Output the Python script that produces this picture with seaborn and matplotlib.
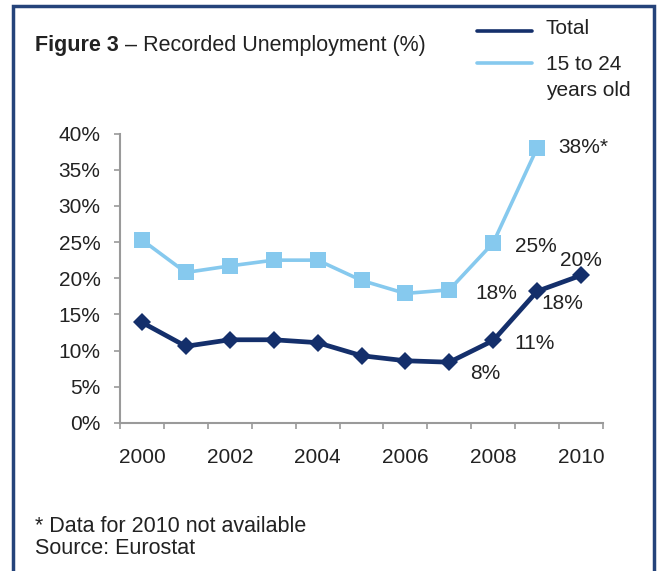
import matplotlib
matplotlib.use("Agg")
import matplotlib.pyplot as plt
from matplotlib.lines import Line2D
from matplotlib.patches import Rectangle
from matplotlib.ticker import FixedLocator, FuncFormatter
import seaborn as sns
import pandas as pd
import numpy as np

# Recorded unemployment (%), by year
years = [2000, 2001, 2002, 2003, 2004, 2005, 2006, 2007, 2008, 2009, 2010]
total = [13.9, 10.6, 11.5, 11.5, 11.1, 9.3, 8.6, 8.4, 11.4, 18.2, 20.4]
youth = [25.3, 20.8, 21.7, 22.5, 22.5, 19.7, 17.9, 18.4, 24.9, 38.0, np.nan]

# labelled points: (year, x offset px, y offset px, suffix)
total_labels = [(2007, 36, -11, ""), (2008, 41, -3, ""), (2009, 25, -12, ""), (2010, 0, 15, "")]
youth_labels = [(2007, 47, -4, ""), (2008, 43, -4, ""), (2009, 46, 0, "*")]

y_ticks = [0, 5, 10, 15, 20, 25, 30, 35, 40]
x_ticklabels = [2000, 2002, 2004, 2006, 2008, 2010]

NAVY = "#142f6b"
LIGHT = "#86c9ee"
FRAME = "#25437a"
AXIS = "#9a9a9a"
TEXT = "#222222"
FS = 15

df = pd.DataFrame({"year": years, "Total": total, "15 to 24 years old": youth})

sns.set_theme(style="white")
plt.rcParams["font.family"] = ["Liberation Sans", "DejaVu Sans"]

W, H = 659, 571
fig = plt.figure(figsize=(W / 100, H / 100), dpi=100)


def fx(px):
    return px / W


def fy(py):
    return 1 - py / H


ax = fig.add_axes([fx(120), fy(423), fx(603) - fx(120), fy(133.5) - fy(423)])

sns.lineplot(data=df, x="year", y="15 to 24 years old", ax=ax, color=LIGHT,
             linewidth=2.6, marker="s", markersize=11, markeredgewidth=0,
             zorder=3)
sns.lineplot(data=df, x="year", y="Total", ax=ax, color=NAVY,
             linewidth=3.4, marker="D", markersize=9, markeredgewidth=0,
             zorder=4)

ax.set_xlim(1999.5, 2010.5)
ax.set_ylim(0, 40)
ax.set_xlabel("")
ax.set_ylabel("")

ax.yaxis.set_major_locator(FixedLocator(y_ticks))
ax.yaxis.set_major_formatter(FuncFormatter(lambda v, p: f"{v:.0f}%"))
ax.xaxis.set_major_locator(FixedLocator(x_ticklabels))
ax.xaxis.set_major_formatter(FuncFormatter(lambda v, p: f"{v:.0f}"))
ax.xaxis.set_minor_locator(FixedLocator(np.arange(1999.5, 2011, 1.0)))

ax.tick_params(axis="y", which="major", length=4, width=1.2, color=AXIS,
               labelsize=FS, labelcolor=TEXT, pad=10, left=True)
ax.tick_params(axis="x", which="major", length=0, labelsize=FS,
               labelcolor=TEXT, pad=18)
ax.tick_params(axis="x", which="minor", length=4, width=1.2, color=AXIS,
               bottom=True, direction="out")

for side in ["top", "right"]:
    ax.spines[side].set_visible(False)
for side in ["left", "bottom"]:
    ax.spines[side].set_color(AXIS)
    ax.spines[side].set_linewidth(1.5)

for yr, dx, dy, suf in total_labels:
    v = total[years.index(yr)]
    ax.annotate(f"{v:.0f}%{suf}", (yr, v), xytext=(dx, dy),
                textcoords="offset pixels", ha="center", va="center",
                fontsize=FS, color=TEXT, zorder=6)
for yr, dx, dy, suf in youth_labels:
    v = youth[years.index(yr)]
    ax.annotate(f"{v:.0f}%{suf}", (yr, v), xytext=(dx, dy),
                textcoords="offset pixels", ha="center", va="center",
                fontsize=FS, color=TEXT, zorder=6)

# title: bold lead-in followed by regular text
t_bold = fig.text(fx(35), fy(46), "Figure 3", fontsize=15.5, fontweight="bold",
                  color=TEXT, ha="left", va="center")
fig.canvas.draw()
bb = t_bold.get_window_extent()
fig.text(bb.x1 / W, fy(46), " \u2013 Recorded Unemployment (%)", fontsize=15.5,
         color=TEXT, ha="left", va="center")

# legend
fig.add_artist(Line2D([fx(477), fx(532)], [fy(31), fy(31)], color=NAVY, lw=2.6))
fig.add_artist(Line2D([fx(477), fx(532)], [fy(63), fy(63)], color=LIGHT, lw=2.6))
fig.text(fx(546), fy(28), "Total", fontsize=FS, color=TEXT, va="center")
fig.text(fx(546), fy(64), "15 to 24", fontsize=FS, color=TEXT, va="center")
fig.text(fx(546), fy(90), "years old", fontsize=FS, color=TEXT, va="center")

# footnotes
fig.text(fx(35), fy(527), "* Data for 2010 not available", fontsize=15.5,
         color=TEXT, va="center")
fig.text(fx(35), fy(549), "Source: Eurostat", fontsize=15.5,
         color=TEXT, va="center")

# outer frame
fig.add_artist(Rectangle((fx(13), fy(575)), fx(654) - fx(13), fy(6) - fy(575),
                         fill=False, edgecolor=FRAME, linewidth=2.5,
                         transform=fig.transFigure, clip_on=False))

fig.savefig("out.png", dpi=100)
